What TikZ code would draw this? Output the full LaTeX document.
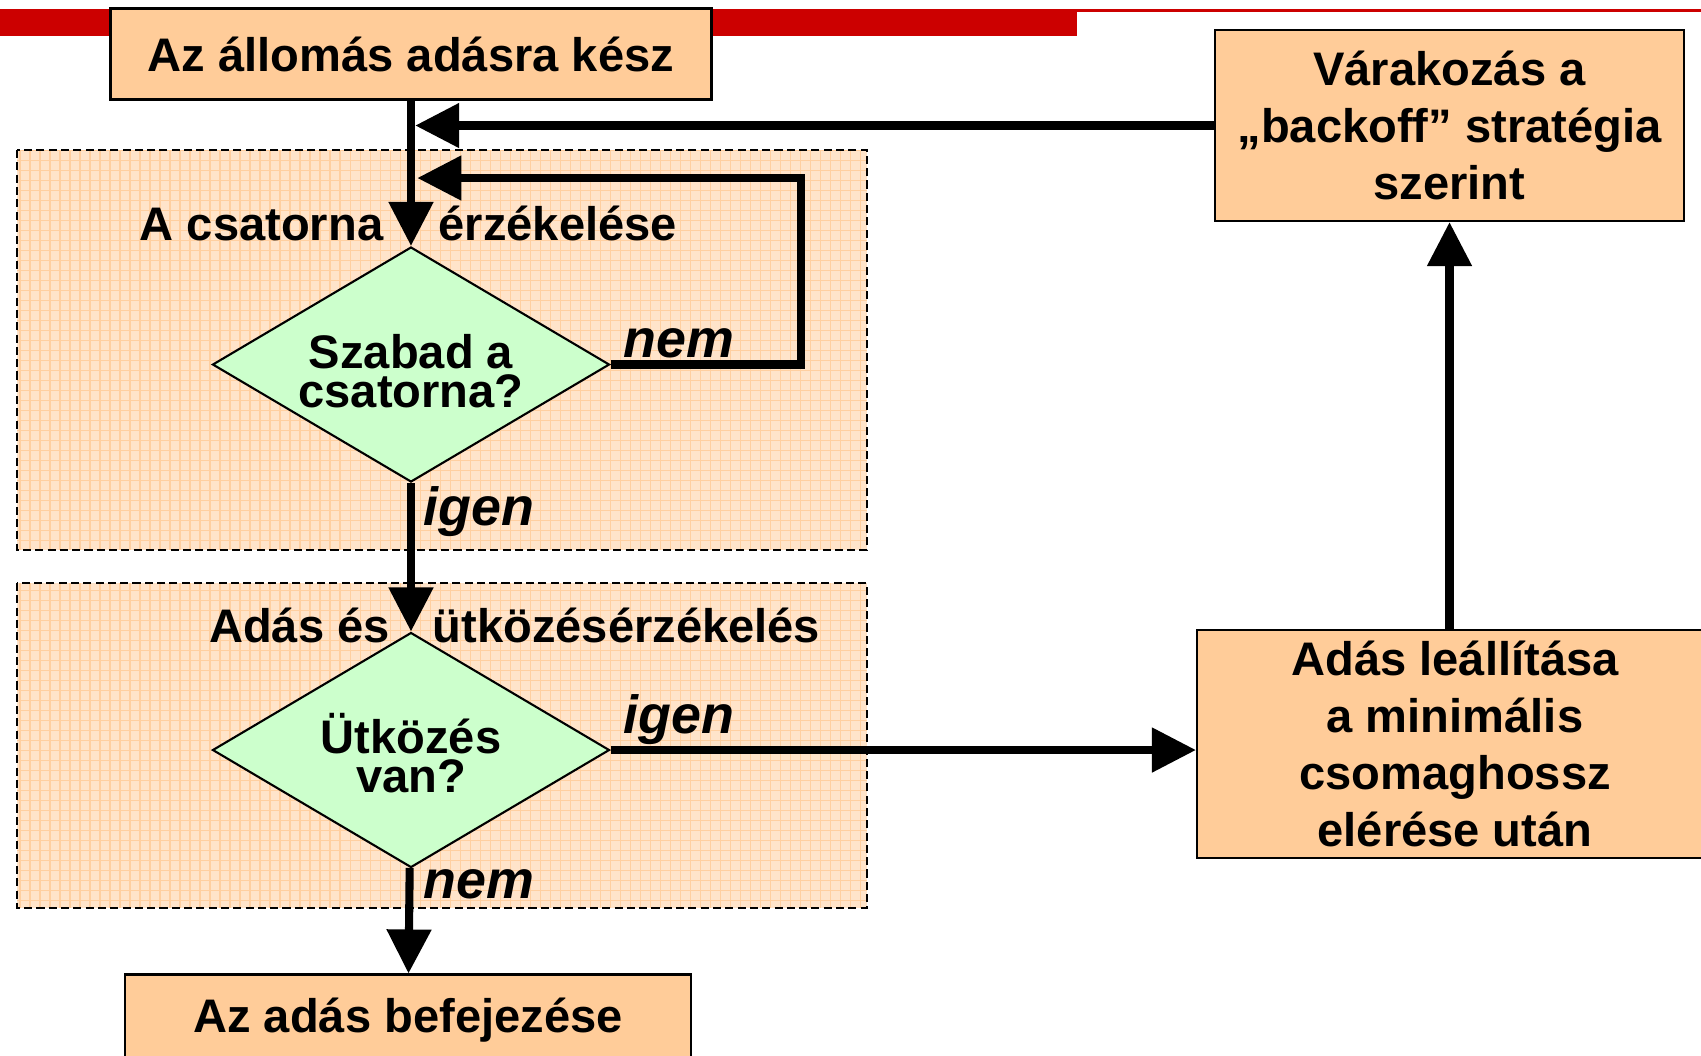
\documentclass[tikz,border=0pt]{standalone}
\usepackage{fontspec}
\setmainfont{Liberation Sans}
\usetikzlibrary{shapes.geometric, positioning, calc, arrows.meta}
\tikzset{flowtip/.tip={Triangle[length=4.4mm, width=4.3mm]}}
\definecolor{boxorange}{HTML}{FFCC99}
\definecolor{decgreen}{HTML}{CCFFCC}
\definecolor{regionfill}{HTML}{FFE4CA}
\definecolor{regiongrid}{HTML}{FFCFA0}
\definecolor{slidered}{HTML}{CC0000}

\begin{document}
\begin{tikzpicture}[
    box/.style={
        draw = black,
        fill = boxorange,
        line width = 0.6pt,
        align = center,
        inner sep = 0pt,
        font = \fontsize{13.4}{16.2}\selectfont\bfseries
    },
    decision/.style={
        diamond,
        aspect = 1.7,
        draw = black,
        fill = decgreen,
        line width = 0.6pt,
        align = center,
        inner sep = 0pt,
        text height = 24.2pt,
        text depth = 0pt,
        minimum width = 3.97cm,
        minimum height = 2.35cm,
        font = \fontsize{13.4}{11}\selectfont\bfseries
    },
    title/.style={inner sep = 0pt, font = \fontsize{13.4}{16.2}\selectfont\bfseries},
    answer/.style={inner sep = 0pt, font = \fontsize{15.3}{18}\selectfont\bfseries\itshape},
    flow/.style={->, line width = 2.3pt},
    >=flowtip
]
\useasboundingbox (0,0) rectangle (17.01,-10.55);
\clip (0,0) rectangle (17.01,-10.55);

% regions
\foreach \ya/\yb in {-1.50/-5.50, -5.83/-9.08}
{
    \fill[regionfill] (0.17,\ya) rectangle (8.67,\yb);
    \draw[regiongrid, line width = 0.3pt, step = 0.1] (0.17,\ya) grid (8.67,\yb);
    \draw[line width = 0.6pt, dash pattern = on 2.3pt off 1.2pt] (0.17,\ya) rectangle (8.67,\yb);
}

% red bar
\fill[slidered] (0,-0.093) rectangle (10.77,-0.357);
\fill[slidered] (10.77,-0.093) rectangle (17.01,-0.117);

% boxes
\node[box, minimum width = 6.01cm, minimum height = 0.91cm] (start) at (4.11,-0.54) {Az állomás adásra kész};
\node[box, minimum width = 4.69cm, minimum height = 1.91cm] (backoff) at (14.495,-1.255) {Várakozás a\\„backoff” stratégia\\szerint};
\node[box, minimum width = 5.16cm, minimum height = 2.28cm] (stop) at (14.55,-7.44) {Adás leállítása\\a minimális\\csomaghossz\\elérése után};
\node[box, minimum width = 5.66cm, minimum height = 0.91cm] (finish) at (4.08,-10.20) {Az adás befejezése};

% decisions
\node[decision] (sense) at (4.11,-3.645) {Szabad a\\csatorna?};
\node[decision] (collide) at (4.11,-7.50) {Ütközés\\van?};

% region titles
\node[title, anchor = base east] (sensetitle) at (3.84,-2.40) {A csatorna};
\node[title, anchor = base west] (sensetitle2) at (4.38,-2.40) {érzékelése};
\node[title, anchor = base east] (collidetitle) at (3.905,-6.42) {Adás és};
\node[title, anchor = base west] (collidetitle2) at (4.32,-6.42) {ütközésérzékelés};

% answers
\node[answer, anchor = base west] (nem1) at (6.23,-3.57) {nem};
\node[answer, anchor = base west] (igen1) at (4.23,-5.25) {igen};
\node[answer, anchor = base west] (igen2) at (6.23,-7.33) {igen};
\node[answer, anchor = base west] (nem2) at (4.23,-8.98) {nem};

% lines
\coordinate (loop) at (8.01,-1.78);
\draw[flow] (start) -- (sense);
\draw[flow, shorten > = 1.2pt] (backoff.west) -- (backoff.west -| sense.north);
\draw[flow, shorten > = 1.8pt] (sense.east) -| (loop) -- (loop -| sense.north);
\draw[flow] (sense) -- (collide);
\draw[flow] (collide.east) -- (collide.east -| stop.west);
\draw[flow] (collide) -- (finish);
\draw[flow] (stop.north -| backoff.south) -- (backoff.south);

\end{tikzpicture}
\end{document}
